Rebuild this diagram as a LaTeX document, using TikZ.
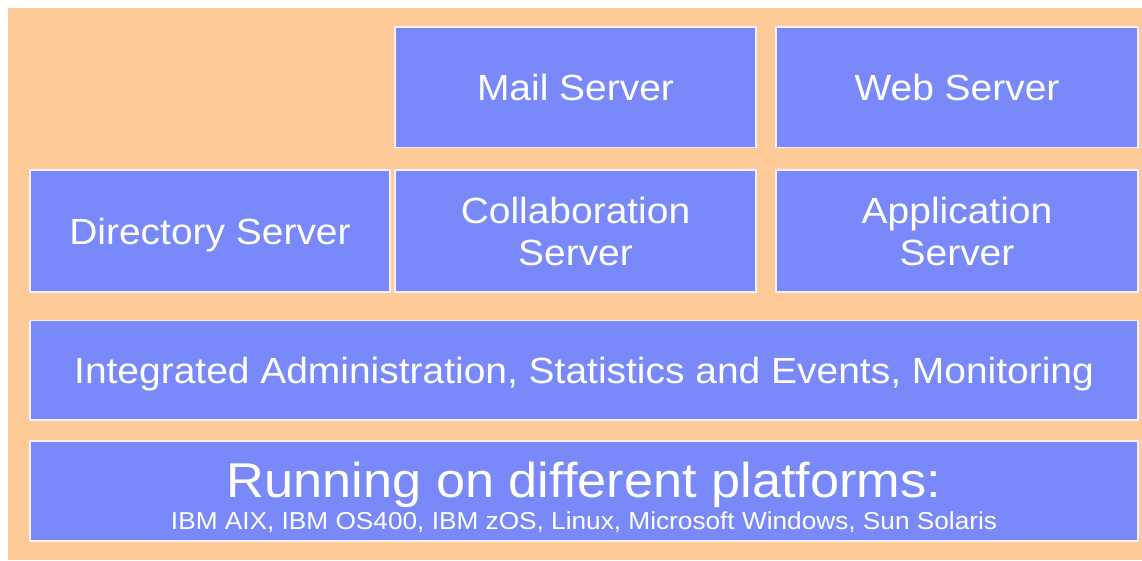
\documentclass[tikz,border=0pt]{standalone}
\usepackage{fontspec}
\setmainfont{Liberation Sans}[FakeStretch=1.07]
\definecolor{bgorange}{HTML}{FECA98}
\definecolor{boxblue}{HTML}{7989FA}
\definecolor{boxline}{HTML}{F2F0FF}
\tikzset{
  box/.style={rectangle, fill=boxblue, draw=boxline, line width=1.2pt, inner sep=0pt, outer sep=0pt,
    text=white, align=center, font=\fontsize{36.4}{42}\selectfont},
  oneline/.style={text height=26.1pt, text depth=0pt},
  plaintext/.style={text=white, align=center, inner sep=0pt, font=\fontsize{24.5}{32.6}\selectfont},
}
\begin{document}
\begin{tikzpicture}[x=1pt,y=-1pt]
\useasboundingbox (0,0) rectangle (1142,560);
\fill[bgorange] (8,8) rectangle (1142,560);
\node[box, oneline, minimum width=361pt, minimum height=120.5pt] (mail) at (575.5,87.2) {Mail Server};
\node[box, oneline, minimum width=362pt, minimum height=120.5pt] (web) at (957,87.2) {Web Server};
\node[box, oneline, minimum width=360pt, minimum height=122pt] (dir) at (210,231) {Directory Server};
\node[box, minimum width=361pt, minimum height=122pt] (collab) at (575.5,231) {Collaboration\\Server};
\node[box, minimum width=362pt, minimum height=122pt] (app) at (957,231) {Application\\Server};
\node[box, oneline, minimum width=1108pt, minimum height=99.5pt] (admin) at (584,370.3) {Integrated Administration, Statistics and Events, Monitoring};
\node[box, minimum width=1108pt, minimum height=100pt] (run) at (584,491) {};
\node[plaintext, yshift=-6.5pt] (runtext) at (run.center) {{\fontsize{48.9}{49}\selectfont Running on different platforms:}\\IBM AIX, IBM OS400, IBM zOS, Linux, Microsoft Windows, Sun Solaris};
\end{tikzpicture}
\end{document}
